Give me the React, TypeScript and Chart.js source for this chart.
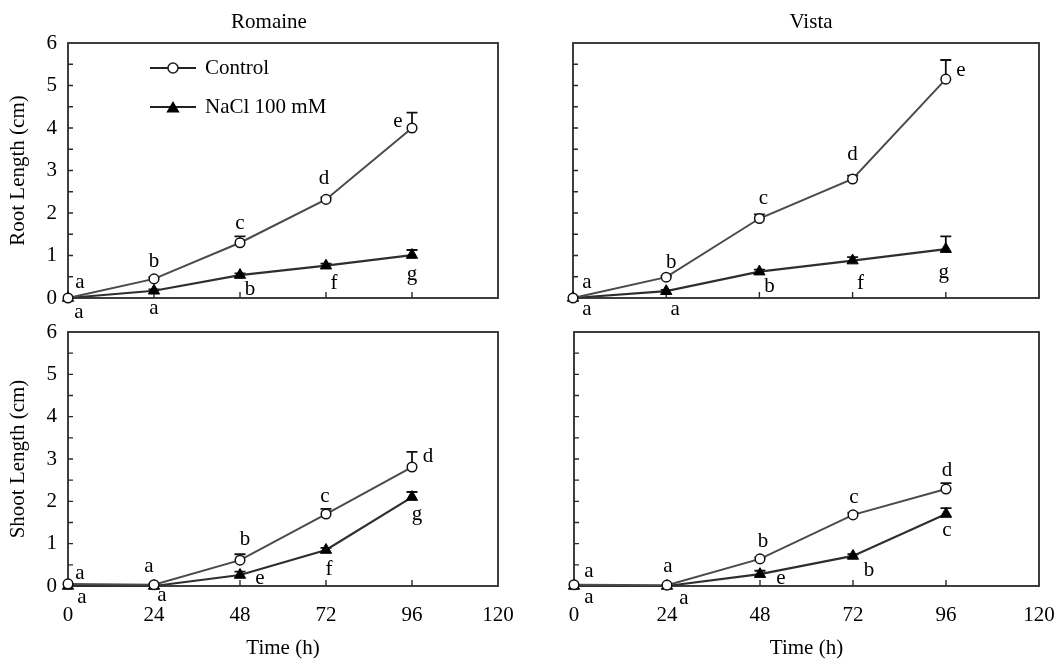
import React, { useEffect, useRef } from "react";
import { Chart, registerables } from "chart.js";
Chart.register(...registerables);

// ---------- data ----------
const times = [0, 24, 48, 72, 96];
const xTickValues = [0, 24, 48, 72, 96, 120];
const yTickValues = [0, 1, 2, 3, 4, 5, 6];

const romaineRootControl = [0, 0.45, 1.3, 2.32, 4.0];
const romaineRootControlErr = [0, 0.04, 0.15, 0.05, 0.36];
const romaineRootNaCl = [0, 0.17, 0.54, 0.76, 1.01];
const romaineRootNaClErr = [0, 0.03, 0.04, 0.05, 0.12];

const vistaRootControl = [0, 0.49, 1.87, 2.8, 5.15];
const vistaRootControlErr = [0, 0.03, 0.1, 0.08, 0.45];
const vistaRootNaCl = [0, 0.16, 0.62, 0.88, 1.15];
const vistaRootNaClErr = [0, 0.03, 0.05, 0.08, 0.3];

const romaineShootControl = [0.05, 0.03, 0.61, 1.7, 2.81];
const romaineShootControlErr = [0, 0.02, 0.14, 0.12, 0.36];
const romaineShootNaCl = [0, 0, 0.26, 0.85, 2.1];
const romaineShootNaClErr = [0, 0, 0.08, 0.05, 0.12];

const vistaShootControl = [0.03, 0.02, 0.64, 1.68, 2.29];
const vistaShootControlErr = [0, 0, 0.03, 0.05, 0.14];
const vistaShootNaCl = [0, 0, 0.28, 0.71, 1.7];
const vistaShootNaClErr = [0, 0, 0.08, 0.04, 0.14];

const romaineRootControlLetters = ["a", "b", "c", "d", "e"];
const romaineRootNaClLetters = ["a", "a", "b", "f", "g"];
const vistaRootControlLetters = ["a", "b", "c", "d", "e"];
const vistaRootNaClLetters = ["a", "a", "b", "f", "g"];
const romaineShootControlLetters = ["a", "a", "b", "c", "d"];
const romaineShootNaClLetters = ["a", "a", "e", "f", "g"];
const vistaShootControlLetters = ["a", "a", "b", "c", "d"];
const vistaShootNaClLetters = ["a", "a", "e", "b", "c"];

const seriesNames = ["Control", "NaCl 100 mM"];
const cultivars = ["Romaine", "Vista"];
const rootTitle = "Root Length (cm)";
const shootTitle = "Shoot Length (cm)";
const timeTitle = "Time (h)";

// ---------- layout / style ----------
const W = 1062;
const H = 661;
const FONT = "'Liberation Serif', 'DejaVu Serif', serif";
const FS = 21;
const LINE = "#4a4a4a";
const DARK = "#111";

type Off = [number, number];
type Panel = {
  area: { left: number; top: number; right: number; bottom: number };
  control: number[];
  controlErr: number[];
  nacl: number[];
  naclErr: number[];
  controlLetters: string[];
  naclLetters: string[];
  controlOff: Off[];
  naclOff: Off[];
  yTitle?: string;
  xTitle?: string;
  showY: boolean;
  showX: boolean;
  heading?: string;
  headingDx: number;
  legend: boolean;
};

const panels: Panel[] = [
  {
    area: { left: 68, top: 43, right: 498, bottom: 298 },
    control: romaineRootControl,
    controlErr: romaineRootControlErr,
    nacl: romaineRootNaCl,
    naclErr: romaineRootNaClErr,
    controlLetters: romaineRootControlLetters,
    naclLetters: romaineRootNaClLetters,
    controlOff: [[12, -16], [0, -17], [0, -19], [-2, -21], [-14, -7]],
    naclOff: [[11, 14], [0, 18], [10, 14], [8, 18], [0, 19]],
    yTitle: rootTitle,
    showY: true,
    showX: false,
    heading: cultivars[0],
    headingDx: -14,
    legend: true,
  },
  {
    area: { left: 573, top: 43, right: 1039, bottom: 298 },
    control: vistaRootControl,
    controlErr: vistaRootControlErr,
    nacl: vistaRootNaCl,
    naclErr: vistaRootNaClErr,
    controlLetters: vistaRootControlLetters,
    naclLetters: vistaRootNaClLetters,
    controlOff: [[14, -16], [5, -15], [4, -20], [0, -25], [15, -9]],
    naclOff: [[14, 11], [9, 18], [10, 15], [8, 23], [-2, 23]],
    showY: false,
    showX: false,
    heading: cultivars[1],
    headingDx: 5,
    legend: false,
  },
  {
    area: { left: 68, top: 332, right: 498, bottom: 586 },
    control: romaineShootControl,
    controlErr: romaineShootControlErr,
    nacl: romaineShootNaCl,
    naclErr: romaineShootNaClErr,
    controlLetters: romaineShootControlLetters,
    naclLetters: romaineShootNaClLetters,
    controlOff: [[12, -10], [-5, -18], [5, -21], [-1, -18], [16, -11]],
    naclOff: [[14, 11], [8, 9], [20, 3], [3, 19], [5, 17]],
    yTitle: shootTitle,
    xTitle: timeTitle,
    showY: true,
    showX: true,
    headingDx: 0,
    legend: false,
  },
  {
    area: { left: 574, top: 332, right: 1039, bottom: 586 },
    control: vistaShootControl,
    controlErr: vistaShootControlErr,
    nacl: vistaShootNaCl,
    naclErr: vistaShootNaClErr,
    controlLetters: vistaShootControlLetters,
    naclLetters: vistaShootNaClLetters,
    controlOff: [[15, -13], [1, -19], [3, -17], [1, -17], [1, -19]],
    naclOff: [[15, 11], [17, 12], [21, 4], [16, 15], [1, 16]],
    xTitle: timeTitle,
    showY: false,
    showX: true,
    headingDx: 0,
    legend: false,
  },
];

function drawTriangle(ctx: CanvasRenderingContext2D, x: number, y: number, r: number) {
  ctx.beginPath();
  ctx.moveTo(x, y - r);
  ctx.lineTo(x + r * 0.95, y + r * 0.65);
  ctx.lineTo(x - r * 0.95, y + r * 0.65);
  ctx.closePath();
  ctx.fill();
}

function makePlugin(p: Panel) {
  return {
    id: "decor",
    beforeDatasetsDraw(chart: any) {
      const ctx: CanvasRenderingContext2D = chart.ctx;
      const xs = chart.scales.x;
      const ys = chart.scales.y;
      const ca = chart.chartArea;
      ctx.save();
      // box
      ctx.strokeStyle = "#2a2a2a";
      ctx.lineWidth = 1.8;
      ctx.strokeRect(ca.left, ca.top, ca.right - ca.left, ca.bottom - ca.top);
      // inward ticks
      ctx.lineWidth = 1.4;
      ctx.beginPath();
      ys.ticks.forEach((t: any) => {
        if (t.value <= ys.min || t.value >= ys.max) return;
        const y = ys.getPixelForValue(t.value);
        ctx.moveTo(ca.left, y);
        ctx.lineTo(ca.left + 5, y);
      });
      xs.ticks.forEach((t: any) => {
        if (t.value <= xs.min || t.value >= xs.max) return;
        const x = xs.getPixelForValue(t.value);
        ctx.moveTo(x, ca.bottom);
        ctx.lineTo(x, ca.bottom - 6);
      });
      ctx.stroke();
      // error bars
      ctx.strokeStyle = DARK;
      ctx.lineWidth = 1.8;
      const sets: [number[], number[]][] = [
        [p.control, p.controlErr],
        [p.nacl, p.naclErr],
      ];
      sets.forEach(([vals, errs]) => {
        vals.forEach((v, j) => {
          const e = errs[j];
          if (!e) return;
          const x = xs.getPixelForValue(times[j]);
          const y1 = ys.getPixelForValue(v);
          const y2 = ys.getPixelForValue(v + e);
          ctx.beginPath();
          ctx.moveTo(x, y1);
          ctx.lineTo(x, y2);
          ctx.moveTo(x - 5.5, y2);
          ctx.lineTo(x + 5.5, y2);
          ctx.stroke();
        });
      });
      ctx.restore();
    },
    afterDatasetsDraw(chart: any) {
      const ctx: CanvasRenderingContext2D = chart.ctx;
      const xs = chart.scales.x;
      const ys = chart.scales.y;
      const ca = chart.chartArea;
      ctx.save();
      ctx.fillStyle = "#000";
      ctx.font = `${FS}px ${FONT}`;
      ctx.textAlign = "center";
      ctx.textBaseline = "middle";
      const groups: [number[], string[], Off[]][] = [
        [p.control, p.controlLetters, p.controlOff],
        [p.nacl, p.naclLetters, p.naclOff],
      ];
      groups.forEach(([vals, letters, offs]) => {
        vals.forEach((v, j) => {
          const x = xs.getPixelForValue(times[j]) + offs[j][0];
          const y = ys.getPixelForValue(v) + offs[j][1];
          ctx.fillText(letters[j], x, y);
        });
      });
      if (p.heading) {
        ctx.fillText(p.heading, (ca.left + ca.right) / 2 + p.headingDx, ca.top - 21);
      }
      if (p.legend) {
        const lx = ca.left + 82;
        const rows = [ca.top + 25, ca.top + 64];
        ctx.strokeStyle = "#222";
        ctx.lineWidth = 2;
        rows.forEach((y) => {
          ctx.beginPath();
          ctx.moveTo(lx, y);
          ctx.lineTo(lx + 46, y);
          ctx.stroke();
        });
        // control marker
        ctx.beginPath();
        ctx.arc(lx + 23, rows[0], 5, 0, Math.PI * 2);
        ctx.fillStyle = "#fff";
        ctx.fill();
        ctx.lineWidth = 1.6;
        ctx.stroke();
        ctx.fillStyle = "#000";
        drawTriangle(ctx, lx + 23, rows[1] + 1, 7);
        ctx.textAlign = "left";
        ctx.fillText(seriesNames[0], lx + 55, rows[0]);
        ctx.fillText(seriesNames[1], lx + 55, rows[1]);
      }
      ctx.restore();
    },
  };
}

function PanelChart({ p }: { p: Panel }) {
  const ref = useRef<HTMLCanvasElement | null>(null);
  useEffect(() => {
    if (!ref.current) return;
    const yW = p.showY ? p.area.left : 40;
    const xH = p.showX ? H - p.area.bottom : 10;
    const chart = new Chart(ref.current, {
      type: "line",
      data: {
        datasets: [
          {
            label: seriesNames[0],
            data: times.map((t, i) => ({ x: t, y: p.control[i] })),
            borderColor: LINE,
            borderWidth: 2,
            pointStyle: "circle",
            pointRadius: 4.8,
            pointBackgroundColor: "#fff",
            pointBorderColor: DARK,
            pointBorderWidth: 1.5,
            clip: false as any,
            tension: 0,
          },
          {
            label: seriesNames[1],
            data: times.map((t, i) => ({ x: t, y: p.nacl[i] })),
            borderColor: "#2e2e2e",
            borderWidth: 2.2,
            pointStyle: "triangle",
            pointRadius: 6.5,
            pointBackgroundColor: "#000",
            pointBorderColor: "#000",
            pointBorderWidth: 1,
            clip: false as any,
            tension: 0,
          },
        ],
      },
      options: {
        responsive: false,
        animation: false,
        devicePixelRatio: 1,
        events: [],
        layout: {
          padding: {
            left: p.area.left - yW,
            top: p.area.top,
            right: W - p.area.right,
            bottom: H - p.area.bottom - xH,
          },
        },
        plugins: {
          legend: { display: false },
          tooltip: { enabled: false },
          title: { display: false },
        },
        scales: {
          x: {
            type: "linear",
            min: 0,
            max: 120,
            afterBuildTicks: (s: any) => {
              s.ticks = xTickValues.map((v) => ({ value: v }));
            },
            ticks: {
              display: p.showX,
              autoSkip: false,
              maxRotation: 0,
              padding: 17,
              color: "#000",
              font: { family: FONT, size: FS },
            },
            grid: { display: false, drawTicks: false },
            border: { display: false },
            title: {
              display: !!p.xTitle,
              text: p.xTitle || "",
              color: "#000",
              font: { family: FONT, size: FS },
              padding: { top: 0, bottom: 0 },
            },
            afterFit: (s: any) => {
              s.height = xH;
              s.paddingLeft = 0;
              s.paddingRight = 0;
            },
          },
          y: {
            type: "linear",
            min: 0,
            max: 6,
            afterBuildTicks: (s: any) => {
              const out: any[] = [];
              yTickValues.forEach((v, i) => {
                out.push({ value: v });
                if (i < yTickValues.length - 1) out.push({ value: v + 0.5 });
              });
              s.ticks = out;
            },
            ticks: {
              display: p.showY,
              autoSkip: false,
              padding: 11,
              color: "#000",
              font: { family: FONT, size: FS },
              callback: (v: any) => (Number.isInteger(v) ? String(v) : ""),
            },
            grid: { display: false, drawTicks: false },
            border: { display: false },
            title: {
              display: !!p.yTitle,
              text: p.yTitle || "",
              color: "#000",
              font: { family: FONT, size: FS },
              padding: { top: 6, bottom: 0 },
            },
            afterFit: (s: any) => {
              s.width = yW;
              s.paddingTop = 0;
              s.paddingBottom = 0;
            },
          },
        },
      },
      plugins: [makePlugin(p)],
    } as any);
    return () => chart.destroy();
  }, [p]);
  return (
    <canvas
      ref={ref}
      width={W}
      height={H}
      style={{ position: "absolute", left: 0, top: 0, width: W, height: H }}
    />
  );
}

export default function App() {
  return (
    <div
      style={{
        position: "fixed",
        left: 0,
        top: 0,
        width: W,
        height: H,
        background: "#fff",
        overflow: "hidden",
      }}
    >
      {panels.map((p, i) => (
        <PanelChart key={i} p={p} />
      ))}
    </div>
  );
}
